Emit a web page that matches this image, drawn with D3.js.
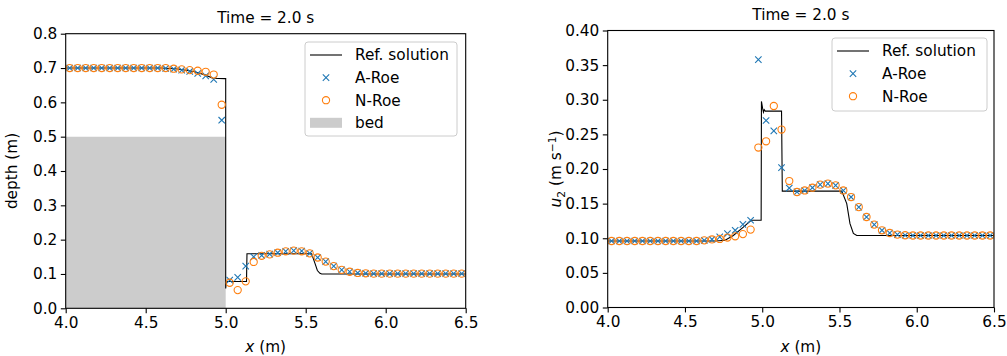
<!DOCTYPE html>
<html><head><meta charset="utf-8">
<script src="https://cdn.jsdelivr.net/npm/d3@7"></script>
<style>
body{margin:0;background:#fff;}
svg{display:block;font-family:"DejaVu Sans",sans-serif;}
</style></head><body>
<svg id="c" width="1007" height="356"></svg>
<script>
// ---------- data ----------
const cellX = [4.025,4.075,4.125,4.175,4.225,4.275,4.325,4.375,4.425,4.475,
  4.525,4.575,4.625,4.675,4.725,4.775,4.825,4.875,4.925,4.975,
  5.025,5.075,5.125,5.175,5.225,5.275,5.325,5.375,5.425,5.475,
  5.525,5.575,5.625,5.675,5.725,5.775,5.825,5.875,5.925,5.975,
  6.025,6.075,6.125,6.175,6.225,6.275,6.325,6.375,6.425,6.475];

const depthARoe = [0.700,0.700,0.700,0.700,0.700,0.700,0.700,0.700,0.700,0.700,
  0.700,0.700,0.699,0.697,0.694,0.690,0.684,0.677,0.667,0.548,
  0.082,0.090,0.123,0.150,0.154,0.158,0.162,0.166,0.168,0.167,
  0.160,0.148,0.136,0.123,0.112,0.1065,0.103,0.102,0.101,0.101,
  0.101,0.101,0.101,0.101,0.101,0.101,0.101,0.101,0.101,0.101];
const depthNRoe = [0.700,0.700,0.700,0.700,0.700,0.700,0.700,0.700,0.700,0.700,
  0.700,0.700,0.700,0.698,0.696,0.694,0.692,0.689,0.681,0.593,
  0.0745,0.053,0.0785,0.135,0.153,0.157,0.162,0.166,0.168,0.166,
  0.160,0.148,0.136,0.123,0.112,0.1065,0.103,0.102,0.101,0.101,
  0.101,0.101,0.101,0.101,0.101,0.101,0.101,0.101,0.101,0.101];
const depthRefX = [4.0,4.55,4.60,4.70,4.80,4.87,4.92,4.995,5.0,5.0,5.004,5.13,5.133,5.537,5.558,5.573,5.589,5.60,6.5];
const depthRefY = [0.700,0.700,0.700,0.697,0.690,0.680,0.670,0.669,0.669,0.058,0.078,0.078,0.159,0.159,0.131,0.110,0.102,0.100,0.100];
const bedX = [4.0,5.0];
const bedY = [0.5,0.5];

const velARoe = [0.096,0.096,0.096,0.096,0.096,0.096,0.096,0.096,0.096,0.096,
  0.096,0.096,0.097,0.0985,0.102,0.1067,0.1115,0.120,0.126,0.358,
  0.270,0.255,0.202,0.1725,0.167,0.169,0.173,0.1774,0.1789,0.1764,
  0.169,0.1595,0.145,0.1307,0.1197,0.1115,0.1076,0.1053,0.1043,0.104,
  0.104,0.104,0.104,0.104,0.104,0.104,0.104,0.104,0.104,0.104];
const velNRoe = [0.096,0.096,0.096,0.096,0.096,0.096,0.096,0.096,0.096,0.096,
  0.096,0.096,0.097,0.0983,0.099,0.101,0.1028,0.106,0.1125,0.231,
  0.240,0.291,0.257,0.1826,0.1668,0.169,0.173,0.1774,0.1789,0.1764,
  0.169,0.1595,0.145,0.1307,0.1197,0.1115,0.1076,0.1053,0.1043,0.104,
  0.104,0.104,0.104,0.104,0.104,0.104,0.104,0.104,0.104,0.104];
const velRefX = [4.0,4.70,4.76,4.813,4.878,4.928,4.993,4.995,5.003,5.008,5.013,5.02,5.125,5.13,5.515,5.547,5.568,5.59,5.612,6.5];
const velRefY = [0.096,0.096,0.097,0.104,0.116,0.126,0.126,0.2976,0.287,0.282,0.2856,0.2836,0.2836,0.168,0.168,0.150,0.121,0.107,0.104,0.104];

const xTicks = [4.0,4.5,5.0,5.5,6.0,6.5];
const depthTicks = [0.0,0.1,0.2,0.3,0.4,0.5,0.6,0.7,0.8];
const velTicks = [0.00,0.05,0.10,0.15,0.20,0.25,0.30,0.35,0.40];
const legendDepth = ["Ref. solution","A-Roe","N-Roe","bed"];
const legendVel = ["Ref. solution","A-Roe","N-Roe"];
const title = "Time = 2.0 s";

// ---------- drawing ----------
const svg = d3.select("#c");
const FS = 15.3;
const BLUE = "#1f77b4", ORANGE = "#ff7f0e";

function panel(opt){
  const g = svg.append("g");
  const x = d3.scaleLinear().domain([4.0,6.5]).range([opt.left, opt.right]);
  const y = d3.scaleLinear().domain(opt.yDomain).range([opt.bottom, opt.top]);

  if(opt.bed){
    g.append("path")
      .datum(opt.bed.x.map((v,i)=>[v,opt.bed.y[i]]))
      .attr("fill","#cccccc")
      .attr("d", d3.area().x(d=>x(d[0])).y0(y(0)).y1(d=>y(d[1])));
  }
  const clip = "clip"+opt.id;
  svg.append("clipPath").attr("id",clip).append("rect")
    .attr("x",opt.left).attr("y",opt.top).attr("width",opt.right-opt.left).attr("height",opt.bottom-opt.top);

  const pg = g.append("g").attr("clip-path",`url(#${clip})`);
  pg.append("path")
    .datum(opt.refX.map((v,i)=>[v,opt.refY[i]]))
    .attr("fill","none").attr("stroke","#000").attr("stroke-width",1.1)
    .attr("d", d3.line().x(d=>x(d[0])).y(d=>y(d[1])));

  const s = 3.2;
  pg.selectAll(".xm").data(cellX.map((v,i)=>[v,opt.a[i]])).enter()
    .append("path").attr("fill","none").attr("stroke",BLUE).attr("stroke-width",1.1)
    .attr("d", d=>{const cx=x(d[0]), cy=y(d[1]);
      return `M${cx-s},${cy-s}L${cx+s},${cy+s}M${cx-s},${cy+s}L${cx+s},${cy-s}`;});
  pg.selectAll(".om").data(cellX.map((v,i)=>[v,opt.n[i]])).enter()
    .append("circle").attr("fill","none").attr("stroke",ORANGE).attr("stroke-width",1.1)
    .attr("r",3.6).attr("cx",d=>x(d[0])).attr("cy",d=>y(d[1]));

  // axes
  const xa = g.append("g").attr("transform",`translate(0,${opt.bottom})`)
    .call(d3.axisBottom(x).tickValues(xTicks).tickFormat(d3.format(".1f")).tickSize(4.9).tickPadding(3.5));
  const ya = g.append("g").attr("transform",`translate(${opt.left},0)`)
    .call(d3.axisLeft(y).tickValues(opt.yTicks).tickFormat(d3.format(opt.yFmt)).tickSize(4.9).tickPadding(3.5));
  [xa,ya].forEach(a=>{
    a.select(".domain").remove();
    a.selectAll("line").attr("stroke","#000").attr("stroke-width",1.1);
    a.selectAll("text").attr("font-size",FS).attr("fill","#000").attr("font-family","DejaVu Sans");
  });
  g.append("rect").attr("x",opt.left).attr("y",opt.top)
    .attr("width",opt.right-opt.left).attr("height",opt.bottom-opt.top)
    .attr("fill","none").attr("stroke","#000").attr("stroke-width",1.1);

  // title
  g.append("text").attr("x",(opt.left+opt.right)/2).attr("y",opt.top-10.5)
    .attr("text-anchor","middle").attr("font-size",FS).text(title);
  // x label
  const xl = g.append("text").attr("x",(opt.left+opt.right)/2).attr("y",352)
    .attr("text-anchor","middle").attr("font-size",FS);
  xl.append("tspan").attr("font-style","italic").text("x");
  xl.append("tspan").text(" (m)");
  // y label
  const yl = g.append("text").attr("transform",`translate(${opt.ylx},${(opt.top+opt.bottom)/2}) rotate(-90)`)
    .attr("text-anchor","middle").attr("font-size",FS);
  opt.ylabel(yl);

  // legend
  const L = opt.legend;
  const lg = g.append("g");
  lg.append("rect").attr("x",L.x).attr("y",L.y).attr("width",L.w).attr("height",L.h)
    .attr("rx",3).attr("fill","#fff").attr("fill-opacity",0.8).attr("stroke","#cccccc").attr("stroke-width",1);
  L.labels.forEach((lab,i)=>{
    const cy = L.y + 13 + i*22.6;
    const hx0 = L.x+5, hx1 = L.x+37, hc = (hx0+hx1)/2;
    if(i===0) lg.append("line").attr("x1",hx0).attr("x2",hx1).attr("y1",cy).attr("y2",cy).attr("stroke","#000").attr("stroke-width",1.1);
    if(i===1) lg.append("path").attr("fill","none").attr("stroke",BLUE).attr("stroke-width",1.1)
      .attr("d",`M${hc-s},${cy-s}L${hc+s},${cy+s}M${hc-s},${cy+s}L${hc+s},${cy-s}`);
    if(i===2) lg.append("circle").attr("cx",hc).attr("cy",cy).attr("r",3.6).attr("fill","none").attr("stroke",ORANGE).attr("stroke-width",1.1);
    if(i===3) lg.append("rect").attr("x",hx0).attr("y",cy-5).attr("width",hx1-hx0).attr("height",10).attr("fill","#cccccc");
    lg.append("text").attr("x",L.x+50).attr("y",cy).attr("dy","0.35em").attr("font-size",FS).text(lab);
  });
}

panel({id:"a", left:65.7, right:465.7, top:33.7, bottom:308.3, yDomain:[0,0.8],
  yTicks:depthTicks, yFmt:".1f", a:depthARoe, n:depthNRoe, refX:depthRefX, refY:depthRefY,
  bed:{x:bedX,y:bedY}, ylx:17,
  ylabel: t=>t.text("depth (m)"),
  legend:{x:305,y:42,w:152,h:94,labels:legendDepth}});

panel({id:"b", left:607.7, right:994, top:30.5, bottom:307.5, yDomain:[0,0.4],
  yTicks:velTicks, yFmt:".2f", a:velARoe, n:velNRoe, refX:velRefX, refY:velRefY,
  bed:null, ylx:561,
  ylabel: t=>{
    t.append("tspan").attr("font-style","italic").text("u");
    t.append("tspan").attr("font-size",10.7).attr("dy",3.5).text("2");
    t.append("tspan").attr("dy",-3.5).text(" (m s");
    t.append("tspan").attr("font-size",10.7).attr("dy",-5.5).text("\u22121");
    t.append("tspan").attr("dy",5.5).text(")");
  },
  legend:{x:832,y:38,w:155,h:73,labels:legendVel}});
</script>
</body></html>
